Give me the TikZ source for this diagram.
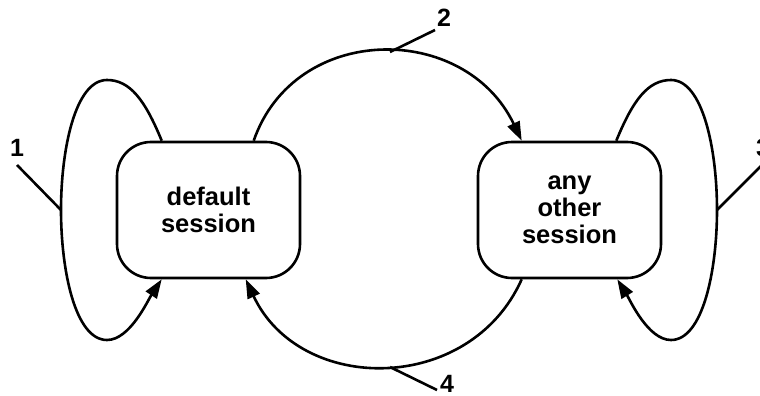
\documentclass[tikz,border=0pt]{standalone}
\usepackage{fontspec}
\setmainfont{Liberation Sans}
\usetikzlibrary{arrows.meta,calc}
\tikzset{
  statebox/.style={draw, line width=2.6pt, rounded corners=34pt, minimum width=183pt,
    minimum height=136pt, inner sep=0pt, align=center,
    font=\fontsize{25.5}{27}\selectfont\bfseries},
  conn/.style={line width=2.6pt},
  arr/.style={conn, -{Triangle[length=19pt,width=13pt]}},
  lbl/.style={font=\fontsize{25}{27}\selectfont\bfseries, inner sep=0pt},
}
\begin{document}
\begin{tikzpicture}[x=1pt, y=-1pt]
\useasboundingbox (0,0) rectangle (760,396);
\node[statebox] (d) at (208.5,210) {default\\session};
\node[statebox] (o) at (569.5,210) {any\\other\\session};
% attachment points
\coordinate (d1) at ($(d.north west)+(46,0)$);
\coordinate (d2) at ($(d.south west)+(46,0)$);
\coordinate (d3) at ($(d.north west)+(138,0)$);
\coordinate (d4) at ($(d.south west)+(130,0)$);
\coordinate (o1) at ($(o.north east)+(-46,0)$);
\coordinate (o2) at ($(o.south east)+(-45,0)$);
\coordinate (o3) at ($(o.north west)+(45,0)$);
\coordinate (o4) at ($(o.south west)+(45,0)$);
% loop 1
\draw[arr] (d1) .. controls (145,100) and (130,80) .. (107,80)
  .. controls (75,80) and (61,150) .. (61,210) coordinate (p1)
  .. controls (61,270) and (75,340) .. (107,340)
  .. controls (130,340) and (148,300) .. (d2);
% loop 3
\draw[arr] (o1) .. controls (633,100) and (648,80) .. (671,80)
  .. controls (703,80) and (717,150) .. (717,210) coordinate (p3)
  .. controls (717,270) and (703,340) .. (671,340)
  .. controls (648,340) and (630,300) .. (o2);
% arc 2
\draw[arr] (d3) .. controls (295,22) and (465,22) .. (o3);
% arc 4
\draw[arr] (o4) .. controls (470,395) and (300,395) .. (d4);
% labels
\node[lbl] (l1) at (17,148) {1};
\node[lbl] (l2) at (444,18) {2};
\node[lbl] (l3) at (763,148) {3};
\node[lbl] (l4) at (447,384) {4};
\coordinate (e1) at (17,165);
\coordinate (e2) at (435,30);
\coordinate (e3) at (762,165);
\coordinate (e4) at (437,390);
\coordinate (p2) at (390,52);
\coordinate (p4) at (390,367);
\draw[conn] (e1) -- (p1);
\draw[conn] (e2) -- (p2);
\draw[conn] (e3) -- (p3);
\draw[conn] (e4) -- (p4);
\end{tikzpicture}
\end{document}
